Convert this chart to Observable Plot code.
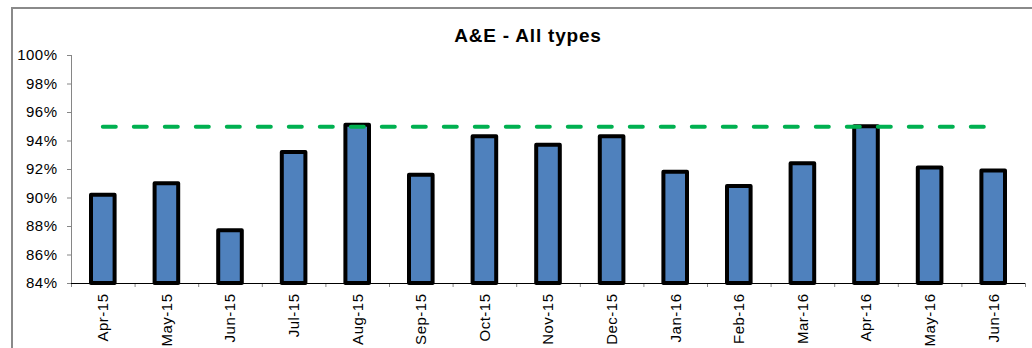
<!DOCTYPE html>
<html>
<head>
<meta charset="utf-8">
<script src="https://cdn.jsdelivr.net/npm/d3@7"></script>
<script src="https://cdn.jsdelivr.net/npm/@observablehq/plot@0.6"></script>
<style>
  html, body { margin: 0; padding: 0; background: #fff; }
  #chart { position: relative; width: 1032px; height: 348px; overflow: hidden; font-family: "Liberation Sans", Arial, sans-serif; }
  #chart .border { position: absolute; left: 11px; top: 7px; width: 2000px; height: 2000px;
    border-left: 2px solid #8a8a8a; border-top: 2px solid #8a8a8a; }
  #chart .title { position: absolute; left: 0; width: 1056px; top: 28px; text-align: center;
    font-weight: bold; font-size: 19px; line-height: 16px; letter-spacing: 0.8px; color: #000; }
  #chart svg { position: absolute; left: 0; top: 0; }
</style>
</head>
<body>
<div id="chart">
  <div class="border"></div>
  <div class="title">A&amp;E - All types</div>
</div>
<script>
// Monthly A&E performance (all types), % seen within 4 hours
const months = ["Apr-15", "May-15", "Jun-15", "Jul-15", "Aug-15", "Sep-15", "Oct-15", "Nov-15",
                "Dec-15", "Jan-16", "Feb-16", "Mar-16", "Apr-16", "May-16", "Jun-16"];
const performance = [90.2, 91.0, 87.7, 93.2, 95.1, 91.6, 94.3, 93.7,
                     94.3, 91.8, 90.8, 92.4, 95.0, 92.1, 91.9];
const target = 95;
const yTicks = [84, 86, 88, 90, 92, 94, 96, 98, 100];

const yMin = yTicks[0];
const yMax = yTicks[yTicks.length - 1];

const rows = months.map((month, i) => ({i, month, value: performance[i]}));
const targetLine = [{y: target, x1: 0.5, x2: months.length - 0.5}];

const chart = Plot.plot({
  width: 1032,
  height: 348,
  marginLeft: 71,
  marginRight: 7,
  marginTop: 55,
  marginBottom: 65,
  x: {type: "linear", domain: [0, months.length]},
  y: {domain: [yMin, yMax]},
  style: {
    fontFamily: "'Liberation Sans', Arial, sans-serif",
    fontSize: "15px",
    letterSpacing: "0.5px",
    color: "#000",
    background: "transparent"
  },
  marks: [
    // bars, one per month band
    Plot.rect(rows, {
      x1: "i",
      x2: d => d.i + 1,
      y1: () => yMin,
      y2: "value",
      insetLeft: 20,
      insetRight: 20,
      fill: "#4F81BD",
      stroke: "#000",
      strokeWidth: 4,
      strokeLinejoin: "round"
    }),
    // y axis line and ticks
    Plot.ruleX([0], {stroke: "#868686", strokeWidth: 1}),
    Plot.axisY({
      ticks: yTicks,
      tickFormat: d => d + "%",
      tickSize: 4,
      tickPadding: 10,
      stroke: "#868686",
      label: null
    }),
    // category boundary ticks
    Plot.axisX({
      ticks: d3.range(months.length + 1),
      tickFormat: () => "",
      tickSize: 4,
      stroke: "#868686",
      label: null
    }),
    // month labels centred in each band
    Plot.axisX({
      ticks: rows.map(d => d.i + 0.5),
      tickFormat: d => months[Math.floor(d)],
      tickSize: 0,
      tickPadding: 10,
      tickRotate: -90,
      label: null
    }),
    Plot.ruleY([yMin], {stroke: "#000", strokeWidth: 1}),
    // 95% standard
    Plot.ruleY(targetLine, {
      y: "y",
      x1: "x1",
      x2: "x2",
      stroke: "#00B050",
      strokeWidth: 4,
      strokeDasharray: "13,18",
      strokeLinecap: "round"
    })
  ]
});

document.getElementById("chart").appendChild(chart);
</script>
</body>
</html>
